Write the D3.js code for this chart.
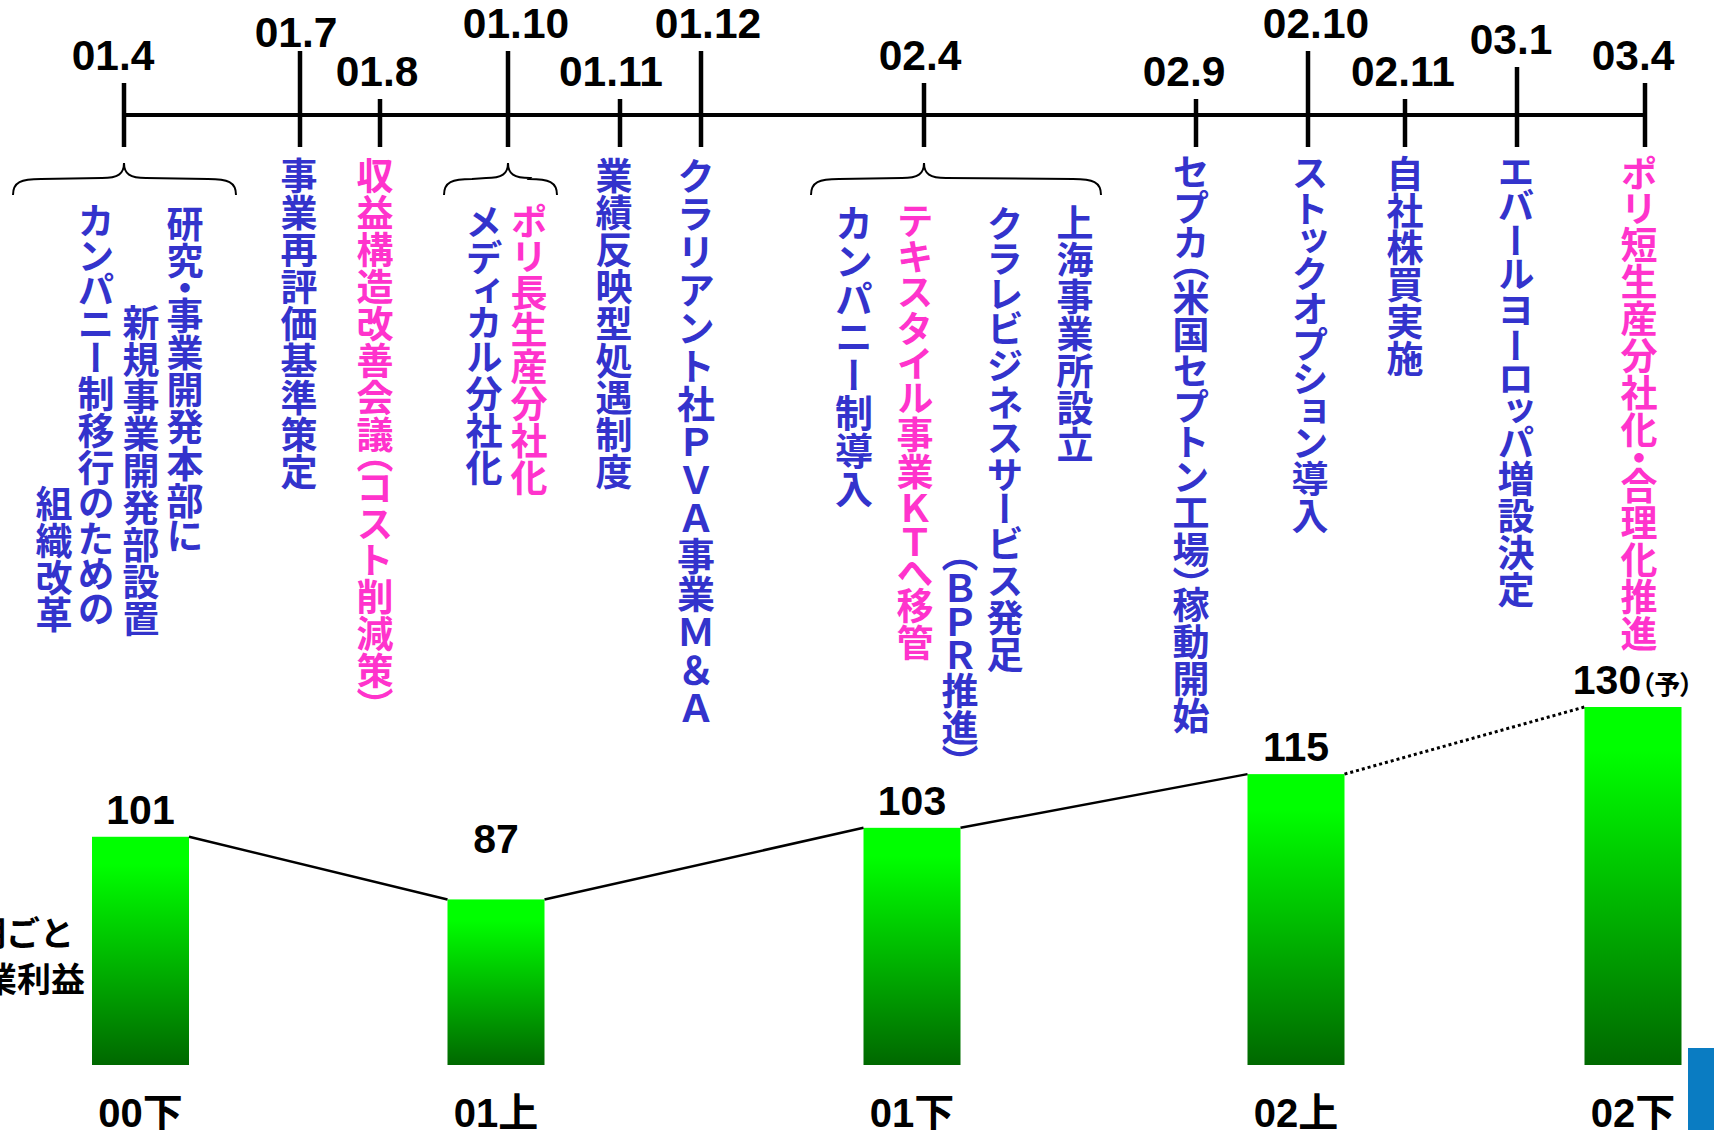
<!DOCTYPE html>
<html>
<head>
<meta charset="utf-8">
<script src="https://cdn.jsdelivr.net/npm/d3@7"></script>
<style>
  html, body { margin: 0; padding: 0; background: #fff; }
  svg { display: block; }
</style>
</head>
<body>
<svg id="chart" width="1714" height="1130"></svg>
<script>
// ---- Timeline of events (months counted from April 2001) ----
const tickLabels = ["01.4", "01.7", "01.8", "01.10", "01.11", "01.12", "02.4", "02.9", "02.10", "02.11", "03.1", "03.4"];
const tickMonths = [0, 3, 4, 6, 7, 8, 12, 17, 18, 19, 21, 24];

// Notes hung under the ticks, one entry per vertical column
const noteTick = [0, 0, 0, 0, 1, 2, 3, 3, 4, 5, 6, 6, 6, 6, 6, 7, 8, 9, 10, 11];
const noteText = [
  "研究・事業開発本部に", "新規事業開発部設置", "カンパニー制移行のための", "組織改革",
  "事業再評価基準策定",
  "収益構造改善会議（コスト削減策）",
  "ポリ長生産分社化", "メディカル分社化",
  "業績反映型処遇制度",
  "クラリアント社ＰＶＡ事業Ｍ＆Ａ",
  "上海事業所設立", "クラレビジネスサービス発足", "（ＢＰＲ推進）", "テキスタイル事業ＫＴへ移管", "カンパニー制導入",
  "セプカ（米国セプトン工場）稼動開始",
  "ストックオプション導入",
  "自社株買実施",
  "エバールヨーロッパ増設決定",
  "ポリ短生産分社化・合理化推進"
];
const noteKind = [
  "org", "org", "org", "org",
  "org",
  "cost",
  "cost", "org",
  "org",
  "org",
  "org", "org", "org", "cost", "org",
  "org", "org", "org", "org",
  "cost"
];
// Ticks whose notes are grouped under a brace
const braceTicks = [0, 3, 6];

// ---- Half-year operating profit ----
const periods = ["00下", "01上", "01下", "02上", "02下"];
const periodEnd = [0, 6, 12, 18, 24];
const profit = [101, 87, 103, 115, 130];
const isForecast = [false, false, false, false, true];
const forecastMark = "（予）";
const captionLines = ["半期ごと", "営業利益"];

// ---- Layout and style ----
const W = 1714, H = 1130;
const colors = { org: "#3333CC", cost: "#FF33CC", ink: "#000" };
const numFont = "'Liberation Sans', Arial, 'Noto Sans CJK JP', sans-serif";
const jpFont = "'Noto Sans CJK JP', sans-serif";

// The axis is not drawn to scale: its stops are spread to fit the notes
const axisStops = [124, 300, 380, 508, 620, 701, 924, 1196, 1308, 1405, 1517, 1645];
const axisY = 115, tickBottom = 147;
const tickTop = [83, 51, 99, 51, 99, 51, 83, 99, 51, 99, 67, 83];
const labelGap = [13, 4, 13, 13, 13, 13, 13, 13, 13, 13, 13, 13];
const labelDx = [-11, -4, -3, 8, -9, 7, -4, -12, 8, -2, -6, -12];

// column offset from its tick and ink top of each note column
const noteLayout = [
  [61, 208], [17, 307], [-28, 207], [-70, 488],
  [-1, 160],
  [-5, 160],
  [21, 206], [-24, 207],
  [-6, 160],
  [-5, 160],
  [151, 207], [81, 209], [36, 555], [-9, 207], [-70, 207],
  [-5, 158], [2, 158], [0, 158], [-1, 158], [-6, 158]
];
// columns set in fixed-pitch type (others use proportional vertical advances)
const fixedPitchNotes = new Set([9, 14]);
const braceSpan = [[-111, 112], [-64, 49], [-113, 177]];
const braceY = { tip: 163, arm: 179, end: 195 };

const plotTop = 707, plotBottom = 1065;
const barW = 97;
const captionRight = [74, 85];
const valueLift = [0, 33, 0, 0, 0];

const svg = d3.select("#chart");

// ---- Scales ----
const x = d3.scaleLinear().domain(tickMonths).range(axisStops);
const y = d3.scaleLinear().domain([50, 130]).range([plotBottom, plotTop]);

// ---- Timeline axis ----
const axis = svg.append("g");
axis.append("line")
  .attr("x1", x(d3.min(tickMonths))).attr("x2", x(d3.max(tickMonths)))
  .attr("y1", axisY).attr("y2", axisY)
  .attr("stroke", colors.ink).attr("stroke-width", 4);

const ticks = axis.selectAll("g.tick").data(tickMonths).join("g").attr("class", "tick");
ticks.append("line")
  .attr("x1", d => x(d)).attr("x2", d => x(d))
  .attr("y1", (d, i) => tickTop[i]).attr("y2", tickBottom)
  .attr("stroke", colors.ink).attr("stroke-width", 4.5);
ticks.append("text")
  .attr("x", (d, i) => x(d) + labelDx[i])
  .attr("y", (d, i) => tickTop[i] - labelGap[i])
  .attr("text-anchor", "middle")
  .attr("font-family", numFont).attr("font-weight", 700).attr("font-size", 42.5)
  .attr("fill", colors.ink)
  .text((d, i) => tickLabels[i]);

// ---- Braces over grouped notes ----
function bracePath(x0, xm, x1) {
  const { tip, arm, end } = braceY;
  return `M${x0},${end} C${x0},${arm + 3} ${x0 + 8},${arm} ${x0 + 28},${arm}` +
    ` L${xm - 22},${arm - 1} C${xm - 6},${arm - 1} ${xm},${arm - 5} ${xm},${tip}` +
    ` C${xm},${arm - 5} ${xm + 6},${arm - 1} ${xm + 22},${arm - 1}` +
    ` L${x1 - 28},${arm} C${x1 - 8},${arm} ${x1},${arm + 3} ${x1},${end}`;
}
svg.append("g").selectAll("path").data(braceTicks).join("path")
  .attr("d", (t, i) => {
    const cx = x(tickMonths[t]);
    return bracePath(cx + braceSpan[i][0], cx, cx + braceSpan[i][1]);
  })
  .attr("fill", "none").attr("stroke", colors.ink).attr("stroke-width", 2);

// ---- Vertical notes ----
svg.append("g").selectAll("text").data(noteText).join("text")
  .attr("x", (d, i) => x(tickMonths[noteTick[i]]) + noteLayout[i][0])
  .attr("y", (d, i) => noteLayout[i][1] - 3)
  .style("writing-mode", "vertical-rl")
  .style("font-feature-settings", (d, i) => fixedPitchNotes.has(i) ? "normal" : "'vpal' 1")
  .attr("font-family", jpFont).attr("font-weight", 700)
  .attr("font-size", (d, i) => fixedPitchNotes.has(i) ? 38 : 37)
  .attr("fill", (d, i) => colors[noteKind[i]])
  .text(d => d);

// ---- Profit bars ----
const defs = svg.append("defs");
const grad = defs.append("linearGradient").attr("id", "barFill")
  .attr("x1", 0).attr("y1", 0).attr("x2", 0).attr("y2", 1);
grad.append("stop").attr("offset", "0").attr("stop-color", "#00FF00");
grad.append("stop").attr("offset", "0.12").attr("stop-color", "#00FF00");
grad.append("stop").attr("offset", "1").attr("stop-color", "#006800");

// bars sit just left of the end of their half-year, clear of the caption
const barCenter = periodEnd.map(m => Math.max(x(m) - 12, captionRight[1] + 7 + barW / 2));

svg.append("g").selectAll("rect").data(profit).join("rect")
  .attr("x", (d, i) => barCenter[i] - barW / 2)
  .attr("y", d => y(d))
  .attr("width", barW)
  .attr("height", d => y.range()[0] - y(d))
  .attr("fill", "url(#barFill)");

// trend line from each bar's top-right corner to the next bar's top-left corner
const segments = d3.range(profit.length - 1).map(i => ({
  pts: [[barCenter[i] + barW / 2, y(profit[i])], [barCenter[i + 1] - barW / 2, y(profit[i + 1])]],
  dotted: isForecast[i + 1]
}));
const line = d3.line();
svg.append("g").selectAll("path").data(segments).join("path")
  .attr("d", s => line(s.pts))
  .attr("fill", "none").attr("stroke", colors.ink)
  .attr("stroke-width", s => s.dotted ? 3 : 2.5)
  .attr("stroke-dasharray", s => s.dotted ? "3,3" : null);

// value labels
const values = svg.append("g").selectAll("text").data(profit).join("text")
  .attr("x", (d, i) => barCenter[i])
  .attr("y", (d, i) => y(d) - 13 - valueLift[i])
  .attr("text-anchor", "middle")
  .attr("font-family", numFont).attr("font-weight", 700).attr("font-size", 41)
  .attr("fill", colors.ink);
values.append("tspan").text(d => d);
values.filter((d, i) => isForecast[i]).append("tspan")
  .attr("font-family", jpFont).attr("font-size", 26)
  .style("font-feature-settings", "'palt' 1")
  .text(forecastMark);

// period labels
svg.append("g").selectAll("text").data(periods).join("text")
  .attr("x", (d, i) => barCenter[i])
  .attr("y", 1127)
  .attr("text-anchor", "middle")
  .attr("font-family", numFont).attr("font-weight", 700).attr("font-size", 40)
  .attr("fill", colors.ink)
  .text(d => d);

// side caption
svg.append("g").selectAll("text").data(captionLines).join("text")
  .attr("x", (d, i) => captionRight[i])
  .attr("y", (d, i) => 946 + i * 46)
  .attr("text-anchor", "end")
  .attr("font-family", jpFont).attr("font-weight", 700).attr("font-size", 34)
  .attr("fill", colors.ink)
  .text(d => d);

// slide corner marker
svg.append("rect")
  .attr("x", W - 26).attr("y", 1048).attr("width", 26).attr("height", H - 1048)
  .attr("fill", "#0A7CC2");
</script>
</body>
</html>
